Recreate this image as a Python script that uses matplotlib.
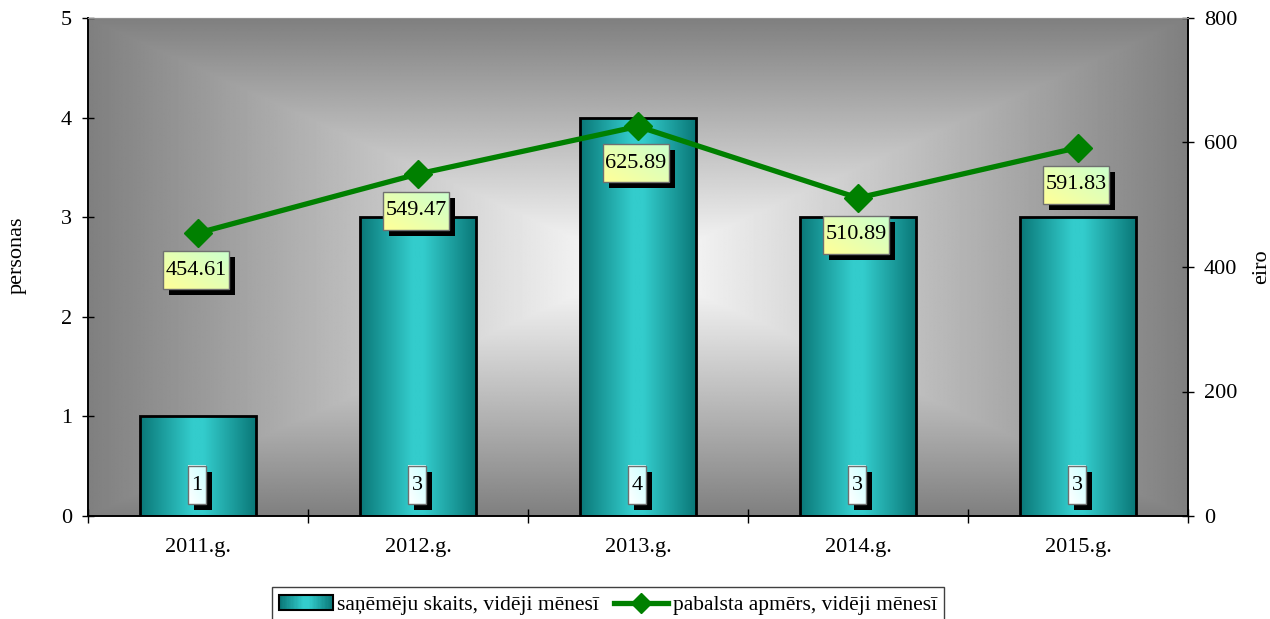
import numpy as np
import matplotlib
matplotlib.use("Agg")
import matplotlib.pyplot as plt
from matplotlib.patches import Rectangle
from matplotlib.lines import Line2D
from matplotlib.colors import LinearSegmentedColormap
from matplotlib.legend_handler import HandlerBase

plt.rcParams['font.family'] = ['Liberation Serif', 'DejaVu Serif']
plt.rcParams['font.size'] = 16

# data
years = ['2011.g.', '2012.g.', '2013.g.', '2014.g.', '2015.g.']
recipients = [1, 3, 4, 3, 3]
benefit = [454.61, 549.47, 625.89, 510.89, 591.83]
bar_name = 'saņēmēju skaits, vidēji mēnesī'
line_name = 'pabalsta apmērs, vidēji mēnesī'

bar_cmap = LinearSegmentedColormap.from_list(
    'teal', [(0, '#0a7878'), (0.45, '#33cccc'), (0.55, '#33cccc'), (1, '#0a7878')])
value_cmap = LinearSegmentedColormap.from_list('yg', ['#ffff99', '#ccffcc'])
count_cmap = LinearSegmentedColormap.from_list('wc', ['#ffffff', '#ccffff'])

fig = plt.figure(figsize=(12.7, 6.19), dpi=100)
ax = fig.add_axes([88 / 1270, 1 - 516 / 619, 1100 / 1270, 498 / 619])
ax.set_xlim(-0.5, 4.5)
ax.set_ylim(0, 5)
ax.patch.set_visible(False)

# rectangular "from centre" background gradient
u = np.linspace(-1, 1, 800)
v = np.linspace(-1, 1, 400)
U, V = np.meshgrid(u, v)
t = np.maximum(np.abs(U), np.abs(V))
shade = 1 - 0.5 * t
ax.imshow(shade, cmap='gray', vmin=0, vmax=1, extent=(-0.5, 4.5, 0, 5),
          aspect='auto', interpolation='bilinear', zorder=0)

x = np.arange(len(years))
bars = ax.bar(x, recipients, width=0.527, facecolor='none', edgecolor='black',
              linewidth=2, zorder=3)
grad = np.linspace(0, 1, 256)[None, :]
for b in bars:
    im = ax.imshow(grad, cmap=bar_cmap, aspect='auto', interpolation='bilinear',
                   extent=(b.get_x(), b.get_x() + b.get_width(), 0, b.get_height()),
                   zorder=2)
    im.set_clip_path(b)

ax2 = ax.twinx()
ax2.set_ylim(0, 800)
ax2.plot(x, benefit, color='#008000', lw=3.8, marker='D', ms=14, zorder=3)


def label_box(axis, xv, yv, text, w, h, dx, dy, cmap, z):
    # box of fixed pixel size placed relative to a data point, with drop shadow
    px, py = axis.transData.transform((xv, yv))
    cx, cy = px + dx, py + dy
    inv = axis.transData.inverted()
    sx0, sy0 = inv.transform((cx - w / 2 + 6, cy - h / 2 - 6))
    sx1, sy1 = inv.transform((cx + w / 2 + 6, cy + h / 2 - 6))
    axis.add_patch(Rectangle((sx0, sy0), sx1 - sx0, sy1 - sy0, fc='black',
                             ec='none', zorder=z))
    x0, y0 = inv.transform((cx - w / 2, cy - h / 2))
    x1, y1 = inv.transform((cx + w / 2, cy + h / 2))
    g = np.add.outer(np.linspace(0, 1, 20)[::-1], np.linspace(0, 1, 20)) / 2
    axis.imshow(g, cmap=cmap, vmin=0, vmax=1, extent=(x0, x1, y0, y1),
                aspect='auto', interpolation='bilinear', zorder=z + 0.1)
    axis.add_patch(Rectangle((x0, y0), x1 - x0, y1 - y0, fc='none',
                             ec='#707070', lw=1, zorder=z + 0.2))
    axis.text((x0 + x1) / 2, (y0 + y1) / 2, text, ha='center', va='center',
              fontsize=16, zorder=z + 0.3)


for xi, n in zip(x, recipients):
    label_box(ax, xi, 0, f'{n}', 18, 38, -1, 31, count_cmap, 5)
for xi, val in zip(x, benefit):
    label_box(ax2, xi, val, f'{val:.2f}', 66, 38, -2, -37, value_cmap, 5)

for a in (ax, ax2):
    a.set_xlim(-0.5, 4.5)
    for s in ('left', 'right', 'bottom'):
        a.spines[s].set_color('black')
        a.spines[s].set_linewidth(1.2)
    a.spines['top'].set_color('#909090')
ax.set_ylim(0, 5)
ax2.set_ylim(0, 800)

ax.set_yticks(range(0, 6))
ax2.set_yticks(range(0, 801, 200))
ax.tick_params(axis='y', direction='inout', length=9, width=1, pad=7)
ax2.tick_params(axis='y', direction='inout', length=9, width=1, pad=7)

ax.set_xticks(np.arange(-0.5, 5, 1))
ax.set_xticklabels([])
ax.set_xticks(x, labels=years, minor=True)
ax.tick_params(axis='x', which='major', direction='inout', length=10, width=1)
ax.tick_params(axis='x', which='minor', length=0, pad=16)

ax.set_ylabel('personas', va='center')
ax.yaxis.set_label_coords((17 - 88) / 1100, 0.524)
ax2.set_ylabel('eiro', va='center', rotation=90)
ax2.yaxis.set_label_coords((1262 - 88) / 1100, 0.5)


class GradientBarHandler(HandlerBase):
    def create_artists(self, legend, orig_handle, xdescent, ydescent, width,
                       height, fontsize, trans):
        n = 40
        arts = []
        for i in range(n):
            arts.append(Rectangle((-xdescent + i * width / n, -ydescent), width / n,
                                  height, fc=bar_cmap(i / (n - 1)), ec='none',
                                  transform=trans))
        arts.append(Rectangle((-xdescent, -ydescent), width, height, fc='none',
                              ec='black', lw=1.5, transform=trans))
        return arts


bar_handle = Rectangle((0, 0), 1, 1)
line_handle = Line2D([], [], color='#008000', lw=3.8, marker='D', ms=10)
fig.legend([bar_handle, line_handle], [bar_name, line_name],
           handler_map={Rectangle: GradientBarHandler()},
           loc='center', bbox_to_anchor=(608 / 1270, 1 - 605 / 619),
           ncol=2, frameon=True, fancybox=False, edgecolor='#404040',
           framealpha=1, fontsize=15.5, handlelength=2.5, handletextpad=0.2,
           columnspacing=0.7, borderpad=0.35, numpoints=1)

fig.savefig('out.png', dpi=100)
